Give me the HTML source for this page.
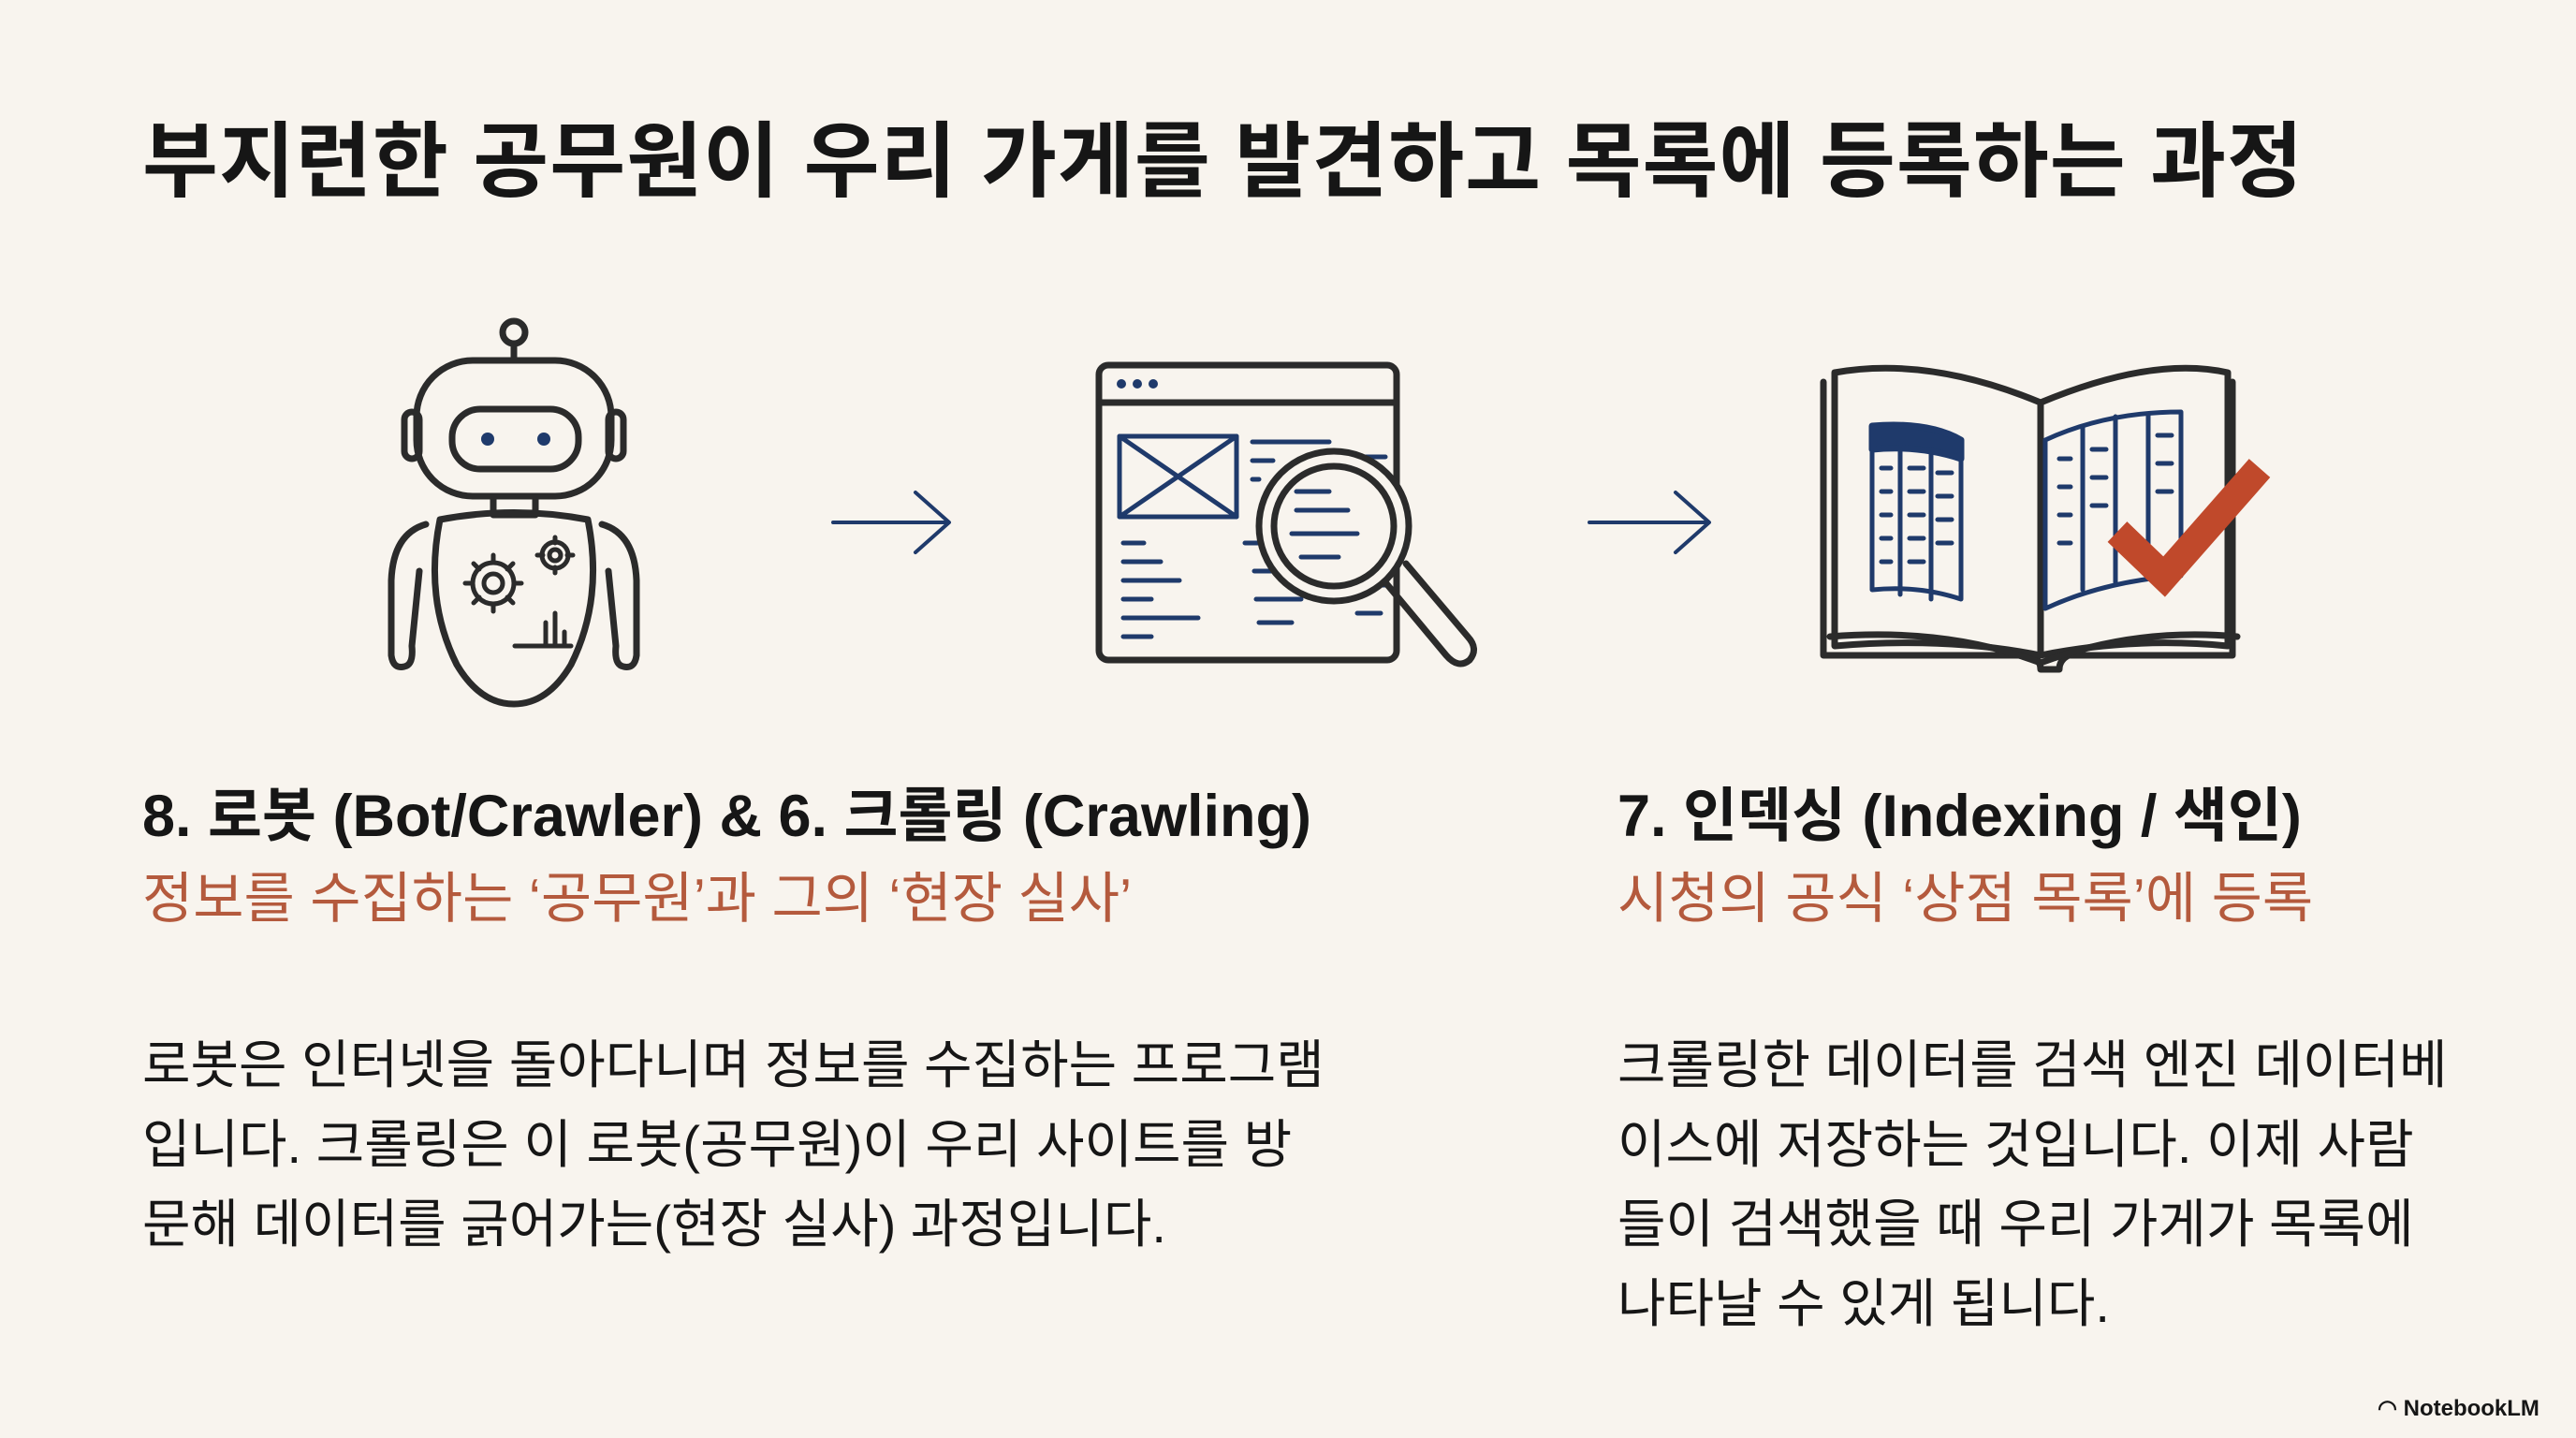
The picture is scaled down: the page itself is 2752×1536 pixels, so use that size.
<!DOCTYPE html>
<html><head><meta charset="utf-8"><style>
html,body{margin:0;padding:0;}
body{width:2752px;height:1536px;background:#f8f4ee;position:relative;overflow:hidden;font-family:"Liberation Sans","Noto Sans CJK KR",sans-serif;color:#161616;}
.t{position:absolute;white-space:nowrap;}
#title{left:152px;top:118px;font-size:88px;font-weight:bold;letter-spacing:1px;line-height:110px;}
.h{font-size:63px;font-weight:bold;line-height:80px;}
.s{font-size:59px;color:#b45a3d;line-height:80px;}
.b{font-size:56px;line-height:85px;}
svg{position:absolute;left:0;top:0;}
</style></head><body>
<svg width="2752" height="1536" viewBox="0 0 2752 1536" fill="none" stroke="#2b2b2b" stroke-width="7" stroke-linecap="round" stroke-linejoin="round">
<circle cx="549" cy="355" r="12"/>
<line x1="549" y1="367" x2="549" y2="385"/>
<rect x="445" y="385" width="208" height="145" rx="60"/>
<rect x="483" y="437" width="135" height="64" rx="30"/>
<circle cx="521" cy="469" r="7" fill="#1f3a6b" stroke="none"/>
<circle cx="581" cy="469" r="7" fill="#1f3a6b" stroke="none"/>
<rect x="432" y="440" width="16" height="50" rx="8"/>
<rect x="650" y="440" width="16" height="50" rx="8"/>
<rect x="527" y="530" width="45" height="20" />
<path d="M470 555 Q549 540 628 555 Q645 640 610 710 Q585 752 549 752 Q513 752 488 710 Q453 640 470 555 Z"/>
<path d="M455 560 Q420 570 418 620 L418 700 Q420 715 432 712 Q442 710 440 690 L448 610"/>
<path d="M643 560 Q678 570 680 620 L680 700 Q678 715 666 712 Q656 710 658 690 L650 610"/>
<g stroke-width="5">
<circle cx="527" cy="623" r="22"/><circle cx="527" cy="623" r="10"/>
<path d="M527 593v8M527 645v8M497 623h8M549 623h8M506 602l6 6M542 638l6 6M506 644l6-6M542 608l6-6"/>
<circle cx="593" cy="593" r="14"/><circle cx="593" cy="593" r="6"/>
<path d="M593 574v6M593 606v6M574 593h6M606 593h6"/>
<path d="M583 690v-25M593 690v-35M603 690v-15M550 690h60"/>
</g>
<g stroke="#1f3a6b" stroke-width="4">
<path d="M890 558H1012M978 526L1014 558L978 590"/>
<path d="M1698 558H1824M1790 526L1826 558L1790 590"/>
</g>
<rect x="1174" y="390" width="318" height="315" rx="10"/>
<line x1="1174" y1="430" x2="1492" y2="430"/>
<g fill="#1f3a6b" stroke="none"><circle cx="1198" cy="410" r="5"/><circle cx="1215" cy="410" r="5"/><circle cx="1232" cy="410" r="5"/></g>
<g stroke="#1f3a6b" stroke-width="5">
<rect x="1196" y="466" width="125" height="86"/>
<path d="M1196 466L1321 552M1321 466L1196 552"/>
<path d="M1338 472H1420M1338 492H1360M1338 512H1345M1200 580H1222M1200 600H1240M1200 620H1260M1200 640H1230M1200 660H1280M1200 680H1230M1330 580H1365M1340 610H1370M1342 640H1390M1345 665H1380M1454 488H1480M1465 520H1480M1440 545H1480M1455 572H1480M1445 600H1470M1460 625H1480M1450 655H1475M1440 545V520H1465"/>
</g>
<circle cx="1425" cy="562" r="80" fill="#f8f4ee"/>
<circle cx="1425" cy="562" r="64"/>
<g stroke="#1f3a6b" stroke-width="5"><path d="M1385 545H1440M1380 570H1450M1390 595H1430M1385 525H1420"/></g>
<path d="M1480 622L1545 700Q1558 715 1570 705Q1580 693 1568 680L1502 602"/>
<path d="M1948 408V700H2170Q2180 705 2180 715H2200Q2200 705 2210 700H2385V408"/>
<path d="M1960 398Q2060 380 2180 430Q2300 380 2380 398V690Q2280 680 2180 700Q2080 680 1960 690Z"/>
<line x1="2180" y1="430" x2="2180" y2="700"/>
<path d="M1955 680Q2080 670 2180 708Q2280 670 2390 680"/>
<path d="M2000 455Q2060 450 2095 470V640Q2050 625 2000 630Z" stroke="#1f3a6b" stroke-width="5"/>
<path d="M2000 455Q2060 450 2095 470V490Q2050 475 2000 480Z" fill="#1f3a6b" stroke="#1f3a6b"/>
<path d="M2185 470Q2250 440 2330 440V615Q2250 620 2185 650Z" stroke="#1f3a6b" stroke-width="5"/>
<g stroke="#1f3a6b" stroke-width="5"><path d="M2030 480V635M2063 485V640M2225 455V630M2260 445V622M2295 442V618M2010 500H2020M2010 525H2020M2010 550H2020M2010 575H2020M2010 600H2020M2040 500H2055M2040 525H2055M2040 550H2055M2040 575H2055M2040 600H2055M2070 505H2085M2070 530H2085M2070 555H2085M2070 580H2085M2200 490H2212M2200 520H2212M2200 550H2212M2200 580H2212M2235 480H2250M2235 510H2250M2235 540H2250M2305 465H2320M2305 495H2320M2305 525H2320"/></g>
<path d="M2262 568L2312 616L2414 500" stroke="#c0492b" stroke-width="30" stroke-linecap="butt" stroke-linejoin="miter"/>
</svg>
<div class="t" id="title">부지런한 공무원이 우리 가게를 발견하고 목록에 등록하는 과정</div>
<div class="t h" style="left:152px;top:832px;">8. 로봇 (Bot/Crawler) &amp; 6. 크롤링 (Crawling)</div>
<div class="t s" style="left:152px;top:920px;">정보를 수집하는 ‘공무원’과 그의 ‘현장 실사’</div>
<div class="t b" style="left:152px;top:1095px;">로봇은 인터넷을 돌아다니며 정보를 수집하는 프로그램<br>입니다. 크롤링은 이 로봇(공무원)이 우리 사이트를 방<br>문해 데이터를 긁어가는(현장 실사) 과정입니다.</div>
<div class="t h" style="left:1728px;top:832px;">7. 인덱싱 (Indexing / 색인)</div>
<div class="t s" style="left:1728px;top:920px;">시청의 공식 ‘상점 목록’에 등록</div>
<div class="t b" style="left:1728px;top:1095px;">크롤링한 데이터를 검색 엔진 데이터베<br>이스에 저장하는 것입니다. 이제 사람<br>들이 검색했을 때 우리 가게가 목록에<br>나타날 수 있게 됩니다.</div>
<div class="t" style="left:2540px;top:1490px;font-size:24px;font-weight:bold;">◠ NotebookLM</div>
</body></html>
